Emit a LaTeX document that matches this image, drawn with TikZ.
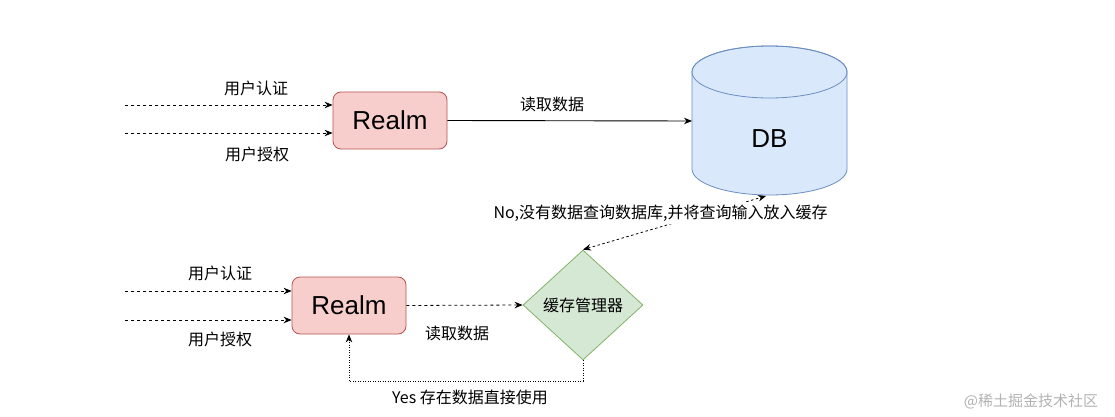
\documentclass[tikz,border=0pt]{standalone}
\usepackage{fontspec}
\setmainfont{Liberation Sans}
\newfontfamily\cjk{Noto Sans CJK SC}
\usetikzlibrary{arrows.meta,shapes.geometric}
\definecolor{redfill}{HTML}{F8CECC}
\definecolor{redline}{HTML}{B85450}
\definecolor{bluefill}{HTML}{DAE8FC}
\definecolor{blueline}{HTML}{6C8EBF}
\definecolor{greenfill}{HTML}{D5E8D4}
\definecolor{greenline}{HTML}{82B366}
\tikzset{
  realmbox/.style={draw=redline, fill=redfill, rounded corners=8pt, minimum width=114pt, minimum height=57pt, inner sep=0pt, font=\fontsize{26}{30}\selectfont, line width=0.8pt},
  lbl/.style={font=\cjk\fontsize{16}{18}\selectfont, inner sep=0pt},
  tip/.style={-{Stealth[length=8pt,width=6.5pt]}},
  dashline/.style={tip, dash pattern=on 3pt off 3pt, line width=0.8pt},
  dotline/.style={tip, dash pattern=on 1pt off 1.5pt, line width=0.8pt},
}
\begin{document}
\begin{tikzpicture}[x=1pt,y=-1pt]
\useasboundingbox (0,0) rectangle (1115,417);
% DB cylinder
\filldraw[draw=blueline, fill=bluefill, line width=0.8pt]
  (692,72) -- (692,169) arc[start angle=180,end angle=360,x radius=77.5pt,y radius=26pt]
  -- (847,72) arc[start angle=0,end angle=180,x radius=77.5pt,y radius=26pt] -- cycle;
\draw[blueline, line width=0.8pt] (769.5,72) ellipse[x radius=77.5pt, y radius=26pt];
\node[font=\fontsize{26}{30}\selectfont] (db) at (769.5,139) {DB};
\coordinate (dbL) at (692,121);
\coordinate (dbB) at (766,196);

% top row
\node[realmbox] (r1) at (390,120.5) {Realm};
\coordinate (a1) at (125,105);
\coordinate (a2) at (125,133);
\draw[dashline] (a1) -- (a1 -| r1.west);
\draw[dashline] (a2) -- (a2 -| r1.west);
\node[lbl] (l1) at (256,88) {用户认证};
\node[lbl] (l2) at (257,154) {用户授权};
\draw[tip, line width=0.9pt] (r1.east) -- (dbL);
\node[lbl] (l3) at (552,104) {读取数据};

% bottom row
\node[realmbox] (r2) at (349,305.5) {Realm};
\coordinate (b1) at (125,291);
\coordinate (b2) at (125,320);
\draw[dashline] (b1) -- (b1 -| r2.west);
\draw[dashline] (b2) -- (b2 -| r2.west);
\node[lbl] (l4) at (220,273) {用户认证};
\node[lbl] (l5) at (220,339) {用户授权};

\node[draw=greenline, fill=greenfill, diamond, aspect=1.1, minimum width=120pt, minimum height=110pt, inner sep=0pt, line width=0.8pt, font=\cjk\fontsize{16}{18}\selectfont] (dia) at (583,305) {缓存管理器};
\draw[dashline] (r2.east) -- (dia.west);
\node[lbl] (l6) at (457,333) {读取数据};

\draw[{Stealth[length=8pt,width=6.5pt]}-{Stealth[length=8pt,width=6.5pt]}, dash pattern=on 2.5pt off 2.5pt, line width=0.8pt] (dia.north) -- (dbB);
\node[lbl, fill=white, inner sep=3pt] (l7) at (660.5,213) {No,没有数据查询数据库,并将查询输入放入缓存};

\coordinate (yc) at (583,381);
\draw[dotline] (dia.south) -- (yc) -- (yc -| r2.south) -- (r2.south);
\node[lbl] (l8) at (470,397) {Yes 存在数据直接使用};

\node[font=\cjk\fontsize{15}{18}\selectfont, text=black!30, inner sep=0pt] (wm) at (1031,401) {@稀土掘金技术社区};
\end{tikzpicture}
\end{document}
